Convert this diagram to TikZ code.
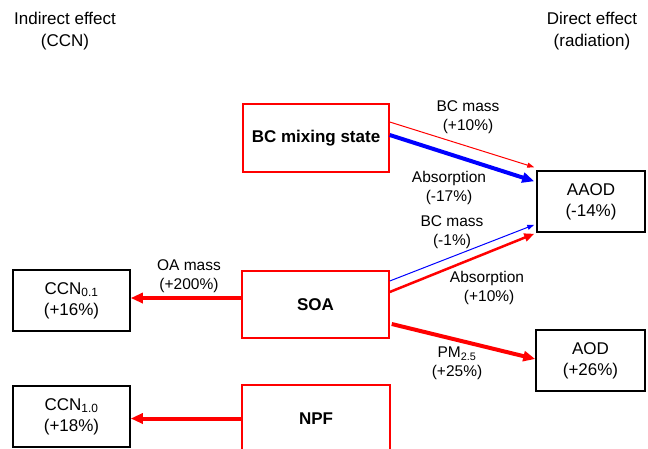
\documentclass[tikz,border=0pt]{standalone}
\usepackage{fontspec}
\setmainfont{Liberation Sans}
\usetikzlibrary{arrows.meta,calc}
\begin{document}
\begin{tikzpicture}[x=1pt,y=-1pt,
  redbox/.style={draw=red,line width=1.5pt,minimum width=146pt,minimum height=67pt,inner sep=0pt,
    font=\fontsize{17}{21}\selectfont\bfseries},
  blkbox/.style={draw=black,line width=1.5pt,align=center,inner sep=0pt,
    font=\fontsize{17}{21}\selectfont},
  lbl/.style={align=center,inner sep=0pt,font=\fontsize{15.5}{19}\selectfont},
  hdr/.style={align=center,inner sep=0pt,font=\fontsize{17}{22}\selectfont},
  thinarrow/.style={line width=1pt,-{Triangle[length=7pt,width=5pt]}},
  medarrow/.style={line width=2.5pt,-{Triangle[length=10pt,width=8pt]}},
  thickarrow/.style={line width=4pt,-{Triangle[length=12pt,width=10pt]}}
]
\useasboundingbox (0,0) rectangle (648,448);
\clip (0,0) rectangle (648,448);

% headers
\node[hdr] (hin) at (65,31) {Indirect effect\\(CCN)};
\node[hdr] (hdi) at (592,31) {Direct effect\\(radiation)};

% source boxes
\node[redbox,minimum height=68pt] (bc) at (316,138) {BC mixing state};
\node[redbox,minimum width=147pt] (soa) at (315.5,304.5) {SOA};
\node[redbox,minimum width=148pt] (npf) at (316,418.5) {NPF};

% target boxes
\node[blkbox,minimum width=108pt,minimum height=61pt] (aaod) at (591,201.5) {AAOD\\(-14\%)};
\node[blkbox,minimum width=109pt,minimum height=61pt] (aod) at (590.5,360.5) {AOD\\(+26\%)};
\node[blkbox,minimum width=117pt,minimum height=61pt] (ccna) at (71.5,300.5) {CCN\textsubscript{0.1}\\(+16\%)};
\node[blkbox,minimum width=117pt,minimum height=61pt] (ccnb) at (71.5,416.5) {CCN\textsubscript{1.0}\\(+18\%)};

% arrows from BC mixing state
\draw[red,thinarrow] ([yshift=16pt]bc.east) -- ([xshift=-2pt,yshift=3pt]aaod.north west);
\draw[blue,thickarrow] ([yshift=3pt]bc.east) -- ([xshift=-2pt,yshift=-11pt]aaod.north west);

% arrows from SOA
\draw[blue,thinarrow] ([yshift=23.5pt]soa.east) -- ([xshift=-2pt,yshift=8pt]aaod.south west);
\draw[red,medarrow] ([yshift=12.5pt]soa.east) -- ([xshift=-2pt,yshift=-1pt]aaod.south west);
\draw[red,thickarrow] ([xshift=2pt,yshift=-19.5pt]soa.east) -- ([yshift=1.5pt]aod.west);
\coordinate (oastart) at ([yshift=6.5pt]soa.west);
\draw[red,thickarrow] (oastart) -- (ccna.east |- oastart);

% arrow from NPF
\draw[red,thickarrow] (npf.west) -- (ccnb.east |- npf.west);

% labels
\node[lbl] (l1) at (468,117) {BC mass\\(+10\%)};
\node[lbl] (l2) at (449,188) {Absorption\\(-17\%)};
\node[lbl] (l3) at (452,232.5) {BC mass\\(-1\%)};
\node[lbl] (l4) at (487,287.5) {Absorption\\\ (+10\%)};
\node[lbl] (l5) at (457,363.5) {PM\textsubscript{2.5}\\(+25\%)};
\node[lbl] (l6) at (189,276.5) {OA mass\\(+200\%)};
\end{tikzpicture}
\end{document}
